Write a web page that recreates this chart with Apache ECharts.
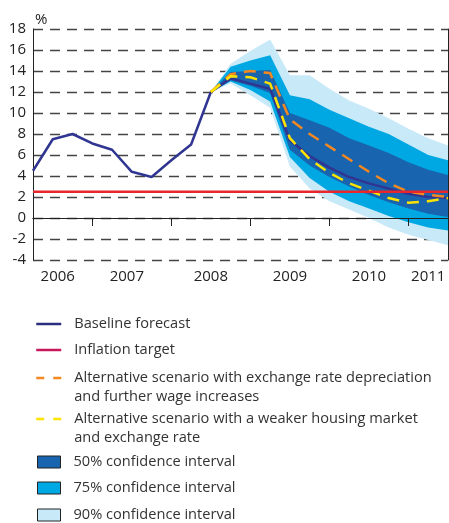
<!doctype html>
<html lang="en">
<head>
    <meta charset="UTF-8">
    <title>Inflation forecast fan chart</title>
    <script src="https://cdn.jsdelivr.net/npm/echarts@6.0.0/dist/echarts.min.js"></script>
    <style>
        html, body { margin: 0; padding: 0; background: #fff; }
        #main { width: 449px; height: 523px; }
    </style>
</head>
<body>
<div id="main"></div>
<script type="text/javascript">
    // quarterly points, 2006 Q2 .. 2011 Q3 (index 0..21)
    var quarters = ['06Q2', '06Q3', '06Q4', '07Q1', '07Q2', '07Q3', '07Q4', '08Q1', '08Q2', '08Q3', '08Q4',
        '09Q1', '09Q2', '09Q3', '09Q4', '10Q1', '10Q2', '10Q3', '10Q4', '11Q1', '11Q2', '11Q3'];
    var baseline = [4.5, 7.5, 8.0, 7.1, 6.5, 4.4, 3.9, 5.5, 7.0, 12.0, 13.3, 12.8, 12.3, 7.4, 5.9, 4.8, 3.9, 3.3, 2.8, 2.3, 2.0, 1.9];
    var depreciation = [null, null, null, null, null, null, null, null, null, 12.0, 13.7, 14.0, 13.8, 9.4, 8.0, 6.8, 5.6, 4.4, 3.3, 2.5, 2.2, 2.0];
    var housing = [null, null, null, null, null, null, null, null, null, 12.0, 13.5, 13.4, 12.8, 7.6, 5.6, 4.3, 3.3, 2.6, 1.9, 1.45, 1.6, 1.9];
    var target = [2.5, 2.5, 2.5, 2.5, 2.5, 2.5, 2.5, 2.5, 2.5, 2.5, 2.5, 2.5, 2.5, 2.5, 2.5, 2.5, 2.5, 2.5, 2.5, 2.5, 2.5, 2.5];

    var ci90Low  = [null, null, null, null, null, null, null, null, null, 12.0, 12.8, 11.7, 10.5, 4.9, 2.8, 1.6, 0.8, 0.0, -0.9, -1.6, -2.1, -2.6];
    var ci90High = [null, null, null, null, null, null, null, null, null, 12.0, 14.7, 15.9, 17.0, 13.6, 13.6, 12.3, 11.2, 10.4, 9.5, 8.5, 7.6, 6.9];
    var ci75Low  = [null, null, null, null, null, null, null, null, null, 12.0, 13.0, 12.2, 11.1, 5.8, 3.8, 2.5, 1.6, 0.9, 0.2, -0.4, -0.9, -1.2];
    var ci75High = [null, null, null, null, null, null, null, null, null, 12.0, 14.4, 15.0, 15.5, 11.7, 11.3, 10.3, 9.5, 8.7, 8.0, 7.0, 6.0, 5.5];
    var ci50Low  = [null, null, null, null, null, null, null, null, null, 12.0, 13.1, 12.6, 11.9, 6.5, 5.0, 3.9, 3.0, 2.2, 1.5, 0.9, 0.4, 0.1];
    var ci50High = [null, null, null, null, null, null, null, null, null, 12.0, 13.9, 14.0, 14.1, 10.0, 9.3, 8.6, 7.6, 6.9, 6.2, 5.3, 4.6, 4.1];

    // year axis: each quarter split into 4 slots, ticks at year boundaries
    var years = ['2006', '2007', '2008', '2009', '2010', '2011'];
    var yearLabelSlots = [5, 19, 36, 52, 68, 80];
    var yearTickSlots = [0, 12, 28, 44, 60, 76, 84];
    var slotsPerQuarter = 4;

    var font = 'Open Sans';
    var navy = '#2f3590';

    function vals(arr) {
        return arr.map(function (v) { return v === null ? '-' : v; });
    }
    function diffs(lo, hi) {
        return lo.map(function (v, i) { return v === null ? '-' : +(hi[i] - v).toFixed(2); });
    }
    function band(id, lo, hi, color, name) {
        return [
            {
                type: 'line', name: id + 'base', stack: id, stackStrategy: 'all',
                data: vals(lo), symbol: 'none', lineStyle: { opacity: 0 }, silent: true
            },
            {
                type: 'line', name: name, stack: id, stackStrategy: 'all',
                data: diffs(lo, hi), symbol: 'none', color: color,
                lineStyle: { opacity: 0 }, areaStyle: { color: color, opacity: 1 }, silent: true
            }
        ];
    }

    var slotData = [];
    for (var s = 0; s <= (quarters.length - 1) * slotsPerQuarter; s++) {
        var k = yearLabelSlots.indexOf(s);
        slotData.push(k >= 0 ? years[k] : '');
    }

    var alt1 = 'Alternative scenario with exchange rate depreciation';
    var alt2 = 'Alternative scenario with a weaker housing market';

    function legendBox(top, left, w, h, item, twoLines) {
        return {
            top: top, left: left, padding: 0, orient: 'vertical',
            itemWidth: w, itemHeight: h, selectedMode: false,
            textStyle: { fontFamily: font, fontSize: 14.6, color: '#333', lineHeight: 19, padding: [0, 0, 0, 8] },
            formatter: twoLines || '{name}',
            data: [item]
        };
    }

    var myChart = echarts.init(document.getElementById('main'));
    var series = [];
    series = series.concat(band('c90', ci90Low, ci90High, '#c8e9f8', '90% confidence interval'));
    series = series.concat(band('c75', ci75Low, ci75High, '#00a8e3', '75% confidence interval'));
    series = series.concat(band('c50', ci50Low, ci50High, '#1864ae', '50% confidence interval'));
    series.push({
        type: 'line', name: 'Baseline forecast', data: vals(baseline), symbol: 'none', color: navy,
        lineStyle: { width: 2.5, color: navy }, z: 3
    });
    series.push({
        type: 'line', name: alt1, data: vals(depreciation), symbol: 'none', color: '#f5891f',
        lineStyle: { width: 2.5, type: [12, 8], color: '#f5891f' }, z: 4
    });
    series.push({
        type: 'line', name: alt2, data: vals(housing), symbol: 'none', color: '#fce300',
        lineStyle: { width: 2.5, type: [12, 8], color: '#fce300' }, z: 4
    });
    series.push({
        type: 'line', name: 'Inflation target', data: vals(target), symbol: 'none', color: '#e8262b',
        lineStyle: { width: 2.5, color: '#e8262b' }, z: 5,
        markLine: {
            silent: true, symbol: ['none', 'none'], label: { show: false },
            lineStyle: { color: '#222', type: 'solid', width: 1 },
            data: [{ yAxis: 0 }]
        }
    });

    var noDot = { opacity: 0 };

    option = {
        animation: false,
        backgroundColor: '#fff',
        grid: { left: 33, right: 1, top: 29, bottom: 263 },
        xAxis: [
            {
                type: 'category', data: quarters, boundaryGap: false, position: 'top', z: 6,
                axisLine: { show: true, lineStyle: { color: '#222', width: 1 } },
                axisTick: { show: false }, axisLabel: { show: false }, splitLine: { show: false }
            },
            {
                type: 'category', data: slotData, boundaryGap: false, position: 'bottom', z: 6,
                axisLine: { show: true, lineStyle: { color: '#222', width: 1 } },
                axisTick: {
                    show: true, length: 8, lineStyle: { color: '#222' },
                    interval: function (i) { return yearTickSlots.indexOf(i) >= 0; }
                },
                axisLabel: {
                    margin: 9, fontFamily: font, fontSize: 15, color: '#222',
                    interval: function (i, v) { return v !== ''; }
                }
            }
        ],
        yAxis: [
            {
                type: 'value', min: -4, max: 18, interval: 2,
                name: '%', nameLocation: 'end', nameGap: 2,
                nameTextStyle: { fontFamily: font, fontSize: 15, color: '#222', align: 'left', padding: [0, 0, 0, 2] },
                axisLine: { show: true, lineStyle: { color: '#222', width: 1 } },
                axisTick: { show: false },
                axisLabel: { margin: 7, fontFamily: font, fontSize: 15, color: '#222' },
                splitLine: { show: true, lineStyle: { color: '#444', width: 1.3, type: [10, 7] } }
            },
            {
                type: 'value', min: -4, max: 18, interval: 2, position: 'right', z: 6,
                axisLine: { show: true, lineStyle: { color: '#222', width: 1 } },
                axisTick: { show: false }, axisLabel: { show: false }, splitLine: { show: false }
            }
        ],
        legend: [
            legendBox(314.5, 35, 25, 14, { name: 'Baseline forecast', itemStyle: noDot,
                lineStyle: { color: '#2b2e7e', width: 2.5 } }),
            legendBox(340.5, 35, 25, 14, { name: 'Inflation target', itemStyle: noDot,
                lineStyle: { color: '#c8185c', width: 2.5 } }),
            legendBox(349.5, 35, 25, 14, { name: alt1, itemStyle: noDot, lineStyle: { type: [8, 9], width: 2.5 } },
                '\n' + alt1 + '\nand further wage increases'),
            legendBox(390.5, 35, 25, 14, { name: alt2, itemStyle: noDot, lineStyle: { type: [8, 9], width: 2.5 } },
                '\n' + alt2 + '\nand exchange rate'),
            legendBox(452.5, 37, 23, 12, { name: '50% confidence interval', icon: 'rect',
                itemStyle: { color: '#1864ae', borderColor: '#222', borderWidth: 1 } }),
            legendBox(478.5, 37, 23, 12, { name: '75% confidence interval', icon: 'rect',
                itemStyle: { color: '#00a8e3', borderColor: '#222', borderWidth: 1 } }),
            legendBox(505.5, 37, 23, 12, { name: '90% confidence interval', icon: 'rect',
                itemStyle: { color: '#c8e9f8', borderColor: '#222', borderWidth: 1 } })
        ],
        series: series
    };

    myChart.setOption(option);
</script>
</body>
</html>
